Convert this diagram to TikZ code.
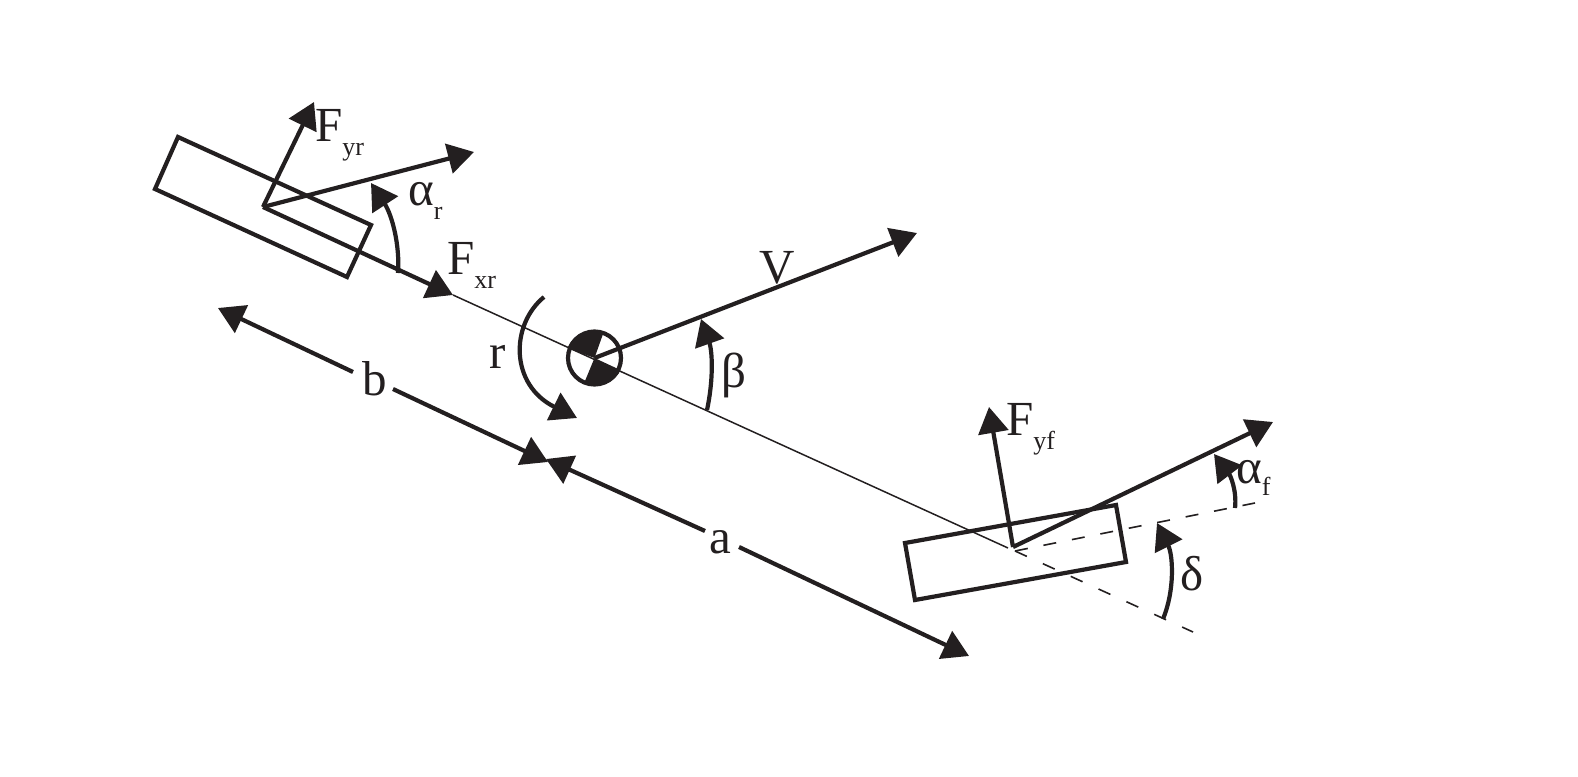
\documentclass[tikz,border=0pt]{standalone}
\usepackage{fontspec}
\setmainfont{Liberation Serif}
\usetikzlibrary{arrows.meta, shapes, positioning}
\definecolor{ink}{HTML}{231F20}
\newcommand{\subfont}{\fontsize{13}{13}\selectfont}
\newcommand{\withsub}[3]{#1\raisebox{#3}{\subfont #2}}

\begin{document}
\begin{tikzpicture}[x=0.5pt,y=-0.5pt,>={Triangle[length=13pt,width=15pt]},
      line width=2.1pt,draw=ink,
      force arrow/.style={->,draw=ink,line width=2.1pt},
      thin line/.style={draw=ink,line width=0.75pt},
      dash line/.style={draw=ink,line width=0.8pt,dash pattern=on 6.5pt off 8pt},
      main label/.style={inner sep=0pt,text=ink,font=\fontsize{24.5}{26}\selectfont}]

      \useasboundingbox (0,0) rectangle (1578,776);

      \foreach \n/\p in {R1/{178,137}, R2/{371,225}, R3/{347,277}, R4/{155,189},
                         F1/{905,543}, F2/{1116,505}, F3/{1126,562}, F4/{915,600},
                         rear/{263,207}, front/{1013,547}, dashstart/{1015,551},
                         fyrtip/{314,102}, vrtip/{474,152}, fxrtip/{453,295},
                         fyftip/{989,407}, vftip/{1273,422}, vtip/{917,233},
                         axisend/{1008,548}, wheelend/{1255,503}, axisfar/{1193,632},
                         bstart/{353,372}, btip/{218,308}, bend/{393,389}, bmid/{548,462},
                         astart/{705,531}, amid/{546,459}, aend/{739,547}, atip/{969,656},
                         betastart/{707,410}, betatip/{701,319},
                         rstart/{544,297}, rtip/{577,418},
                         arstart/{398,273}, artip/{371,183},
                         afstart/{1235,508}, aftip/{1214,454},
                         dstart/{1163,619}, dtip/{1157,523}} {
          \coordinate (\n) at (\p);}

      % tires
      \draw (R1) -- (R2) -- (R3) -- (R4) -- cycle;
      \draw (F1) -- (F2) -- (F3) -- (F4) -- cycle;

      % centre of gravity
      \node[circle,draw=ink,line width=2.1pt,minimum size=26.5pt,inner sep=0pt] (cg) at (594.5,358) {};
      \fill[ink] (cg.center) -- (cg.160) arc[start angle=160,end angle=66,radius=13.25pt] -- cycle;
      \fill[ink] (cg.center) -- (cg.335) arc[start angle=335,end angle=243,radius=13.25pt] -- cycle;

      \draw[thin line] (fxrtip) -- (axisend);
      \draw[dash line] (dashstart) -- (wheelend);
      \draw[dash line,dash pattern=on 6.5pt off 8.8pt] (dashstart) -- (axisfar);

      \foreach \s/\t in {rear/fyrtip, rear/vrtip, rear/fxrtip, cg.center/vtip,
                         front/fyftip, front/vftip, bstart/btip, bend/bmid,
                         astart/amid, aend/atip} {
          \draw[force arrow] (\s) -- (\t);}

      % angles
      \draw[force arrow] (betastart) .. controls (714,377) and (712,350) .. (betatip);
      \draw[force arrow] (rstart) .. controls (510,325) and (510,385) .. (rtip);
      \draw[force arrow] (arstart) .. controls (400,245) and (392,215) .. (artip);
      \draw[force arrow] (afstart) .. controls (1237,490) and (1230,475) .. (aftip);
      \draw[force arrow] (dstart) .. controls (1175,590) and (1173,555) .. (dtip);

      % labels
      \node[main label,anchor=base west] (fyr) at (313,141) {\withsub{F}{yr}{-7pt}};
      \node[main label,anchor=base west] (fxr) at (445,274) {\withsub{F}{xr}{-7pt}};
      \node[main label,anchor=base west] (fyf) at (1004,435) {\withsub{F}{yf}{-7pt}};
      \node[main label,anchor=base west] (ar) at (406,205) {\withsub{α}{r}{-7pt}};
      \node[main label,anchor=base west] (af) at (1234,483) {\withsub{α}{f}{-6pt}};
      \node[main label,anchor=base] (v) at (777,283) {V};
      \node[main label,anchor=base] (beta) at (734,387) {β};
      \node[main label,anchor=base] (r) at (498,368) {r};
      \node[main label,anchor=base] (b) at (375,395) {b};
      \node[main label,anchor=base] (a) at (720,553) {a};
      \node[main label,anchor=base] (delta) at (1192,590) {δ};
\end{tikzpicture}
\end{document}
